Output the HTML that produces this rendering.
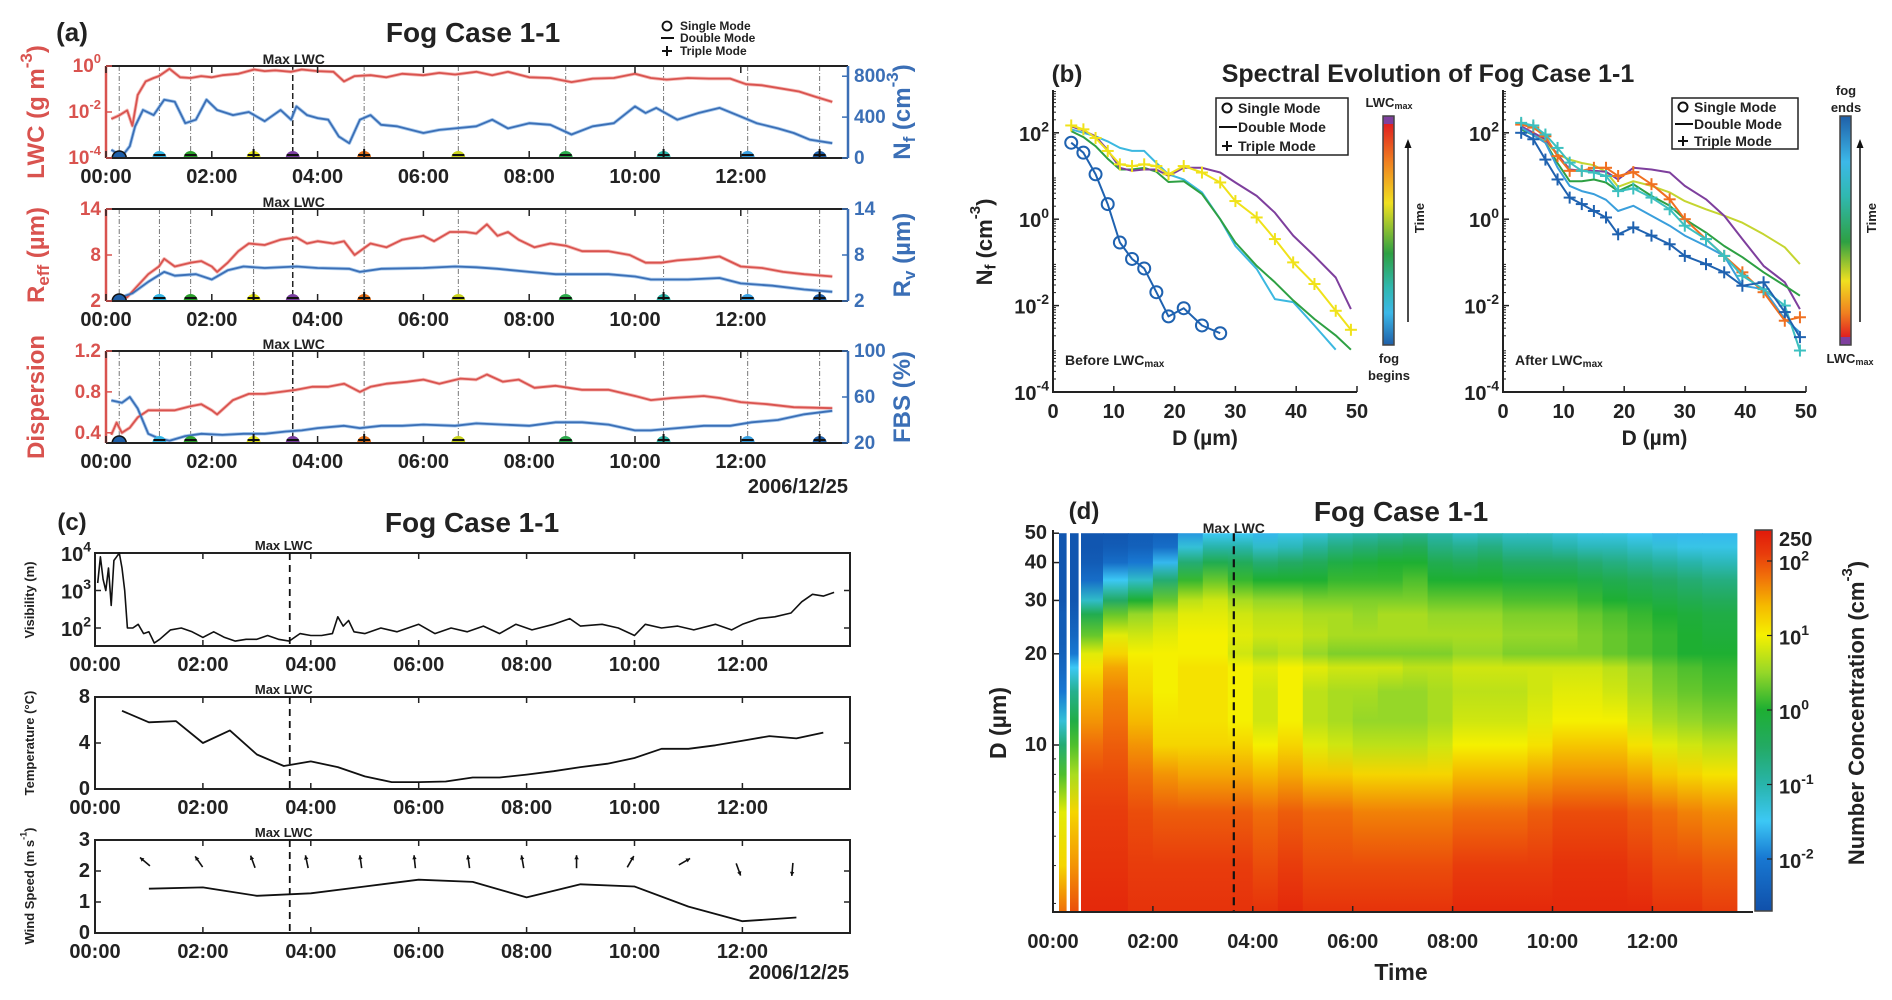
<!DOCTYPE html>
<html><head><meta charset="utf-8"><title>Fog Case 1-1</title>
<style>html,body{margin:0;padding:0;background:#fff}svg{display:block}</style></head>
<body>
<svg id="fig" xmlns="http://www.w3.org/2000/svg" width="1892" height="1000" viewBox="0 0 1892 1000">
<defs id="defs"></defs>
</svg>
<script>
// ---------- DATA: panel (a) ----------
const lwcT=[0.1,0.25,0.4,0.5,0.6,0.75,0.9,1.0,1.2,1.4,1.6,1.8,2.0,2.2,2.5,2.8,3.0,3.2,3.5,3.7,4.0,4.3,4.5,4.7,5.0,5.3,5.6,6.0,6.3,6.6,7.0,7.3,7.6,8.0,8.4,8.8,9.2,9.6,10.0,10.3,10.6,11.0,11.4,11.8,12.1,12.4,12.8,13.1,13.4,13.73];
const lwcLog=[-2.3,-2.15,-1.93,-2.6,-1.26,-0.67,-0.52,-0.44,-0.12,-0.49,-0.52,-0.44,-0.49,-0.4,-0.34,-0.15,-0.22,-0.19,-0.25,-0.15,-0.22,-0.25,-0.67,-0.44,-0.4,-0.49,-0.34,-0.4,-0.3,-0.37,-0.25,-0.4,-0.25,-0.49,-0.52,-0.7,-0.55,-0.52,-0.34,-0.52,-0.59,-0.52,-0.55,-0.55,-0.79,-0.84,-0.99,-1.11,-1.33,-1.56];
const nfT=[0.1,0.3,0.45,0.55,0.7,0.9,1.1,1.3,1.5,1.7,1.9,2.1,2.4,2.7,3.0,3.3,3.5,3.6,3.8,4.0,4.2,4.4,4.6,4.8,5.0,5.2,5.5,6.0,6.3,6.6,7.0,7.3,7.6,8.0,8.4,8.8,9.2,9.6,10.0,10.2,10.4,10.8,11.2,11.6,12.0,12.3,12.7,13.0,13.3,13.73];
const nfVal=[80,15,115,310,470,420,570,550,340,375,570,470,420,450,360,470,375,505,420,390,375,210,145,375,420,325,310,245,275,290,310,375,290,340,325,230,310,340,505,440,490,375,440,490,405,340,290,245,180,145];
const reffT=[0.2,0.4,0.6,0.8,1.0,1.1,1.3,1.6,1.8,2.0,2.1,2.3,2.5,2.7,3.0,3.3,3.6,3.8,4.0,4.3,4.5,4.7,5.0,5.3,5.6,6.0,6.2,6.5,6.8,7.0,7.2,7.4,7.6,7.8,8.1,8.4,8.7,9.0,9.5,9.9,10.2,10.5,10.8,11.2,11.6,12.0,12.4,12.8,13.2,13.73];
const reffVal=[2.5,2.5,4,5.5,6.5,7.5,6.5,7,7.2,6.5,5.8,7,8.5,9.5,9.3,10,10.3,9.5,9.8,9.5,9.8,8,9.5,9,10,10.5,9.8,11,11,10.8,12,10.5,11,10,9,9.5,9.2,8.5,8.5,8,7,7,7.3,7.5,7.8,6.5,6.3,5.8,5.5,5.2];
const rvT=[0.2,0.5,0.8,1.1,1.3,1.7,2.0,2.3,2.6,3.0,3.6,4.0,4.6,4.8,5.2,6.0,6.6,7.0,7.4,8.0,8.5,9.0,9.5,10.0,10.3,11.0,11.6,12.0,12.6,13.2,13.73];
const rvVal=[2.3,3,4.5,5.8,5.3,5.5,4.8,6,6.5,6.3,6.5,6.3,6.2,5.8,6.2,6.3,6.5,6.4,6.2,5.8,5.5,5.5,5.5,5.2,4.8,4.8,5,4.3,4,3.5,3.2];
const dispT=[0.1,0.2,0.3,0.45,0.6,0.8,1.0,1.3,1.6,1.8,2.0,2.1,2.4,2.7,3.0,3.3,3.6,3.9,4.2,4.5,4.8,5.0,5.3,5.7,6.0,6.3,6.7,7.0,7.2,7.5,7.8,8.1,8.5,9.0,9.5,10.0,10.3,10.7,11.3,11.6,12.0,12.5,13.0,13.73];
const dispVal=[0.38,0.5,0.4,0.45,0.55,0.62,0.62,0.62,0.66,0.68,0.62,0.58,0.72,0.78,0.78,0.8,0.82,0.85,0.85,0.88,0.8,0.85,0.88,0.9,0.92,0.88,0.93,0.92,0.97,0.9,0.92,0.84,0.86,0.82,0.82,0.76,0.72,0.74,0.76,0.74,0.7,0.68,0.65,0.64];
const fbsT=[0.1,0.3,0.45,0.6,0.8,1.0,1.2,1.5,1.8,2.2,2.6,3.0,3.4,3.7,4.0,4.5,4.8,5.2,5.6,6.0,6.6,7.0,7.5,8.0,8.5,9.0,9.5,10.0,10.3,10.8,11.3,11.8,12.2,12.7,13.2,13.73];
const fbsVal=[57,55,60,50,28,24,22,26,28,27,28,28,30,31,33,35,33,35,35,36,35,37,36,35,38,38,36,31,31,33,35,35,38,40,45,48];
const modeT=[0.25,1.01,1.6,2.79,3.53,4.88,6.66,8.69,10.54,12.13,13.49];
const modeType=['single','double','double','triple','double','triple','double','double','triple','double','triple'];
const modeCol=['#1f5fa8','#33b5e5','#2ca02c','#e6e619','#7b3fa0','#e8731a','#c8d21e','#2aa84a','#2bb5a8','#3aa0e0','#1f5fa8'];
const maxLwcT=3.55;
const timeTicks=[0,2,4,6,8,10,12];
const timeLabels=['00:00','02:00','04:00','06:00','08:00','10:00','12:00'];
// ---------- DATA: panel (c) ----------
const visT=[0.05,0.1,0.15,0.2,0.25,0.3,0.35,0.4,0.45,0.5,0.55,0.6,0.7,0.8,0.9,1.0,1.1,1.2,1.4,1.6,1.8,2.0,2.2,2.4,2.6,2.8,3.0,3.2,3.4,3.6,3.8,4.0,4.2,4.4,4.5,4.6,4.7,4.8,5.0,5.3,5.6,6.0,6.3,6.6,6.9,7.2,7.5,7.8,8.1,8.5,8.8,9.0,9.4,9.7,10.0,10.2,10.5,10.8,11.1,11.5,11.8,12.0,12.3,12.6,12.9,13.1,13.3,13.5,13.7];
const visLog=[3.2,3.9,3.3,3.0,3.6,2.6,3.8,3.9,4.0,3.6,3.0,2.0,2.0,2.1,1.85,1.9,1.6,1.7,1.95,2.0,1.9,1.75,1.9,1.75,1.65,1.7,1.7,1.8,1.7,1.65,1.85,1.8,1.8,1.85,2.3,2.05,2.2,1.9,1.85,2.0,1.9,2.1,1.85,2.0,1.9,2.05,1.85,2.1,1.95,2.1,2.25,2.05,2.1,2.0,1.8,2.1,2.0,2.05,1.95,2.1,1.95,2.1,2.25,2.3,2.4,2.7,2.9,2.85,2.95];
const tempT=[0.5,1,1.5,2,2.5,3,3.5,4,4.5,5,5.5,6,6.5,7,7.5,8,8.5,9,9.5,10,10.5,11,11.5,12,12.5,13,13.5];
const tempVal=[6.8,5.8,5.9,4.0,5.1,3.0,2.0,2.4,1.9,1.1,0.6,0.6,0.65,1.0,1.0,1.25,1.55,1.9,2.2,2.7,3.5,3.5,3.8,4.2,4.6,4.4,4.9];
const windT=[1,2,3,4,5,6,7,8,9,10,11,12,13];
const windVal=[1.43,1.47,1.2,1.28,1.5,1.72,1.65,1.15,1.57,1.5,0.85,0.38,0.5];
const windDir=[-50,-35,-20,-12,-8,-6,-8,-10,0,30,60,160,185];
const maxLwcTc=3.61;
// ---------- DATA: panel (b) ----------
const specD=[3,5,7,9,11,13,15,17,19,21.5,24.5,27.5,30,33.5,36.5,39.5,43,46.5,49];
const bSingle=[1.77,1.54,1.04,0.35,-0.54,-0.92,-1.14,-1.69,-2.25,-2.06,-2.46,-2.64,null,null,null,null,null,null,null];
const bYellow=[2.17,2.08,1.88,1.58,1.27,1.23,1.27,1.23,1.04,1.23,1.08,0.85,0.42,0.04,-0.46,-1.0,-1.5,-2.12,-2.56];
const bPurple=[2.15,2.05,1.92,1.6,1.19,1.12,1.15,1.15,1.0,1.19,1.19,1.08,0.85,0.54,0.15,-0.38,-0.85,-1.35,-2.08];
const bGreen=[2.04,1.9,1.69,1.4,1.15,1.15,1.19,1.1,0.86,0.88,0.58,0,-0.54,-1.08,-1.46,-1.88,-2.31,-2.69,-3.02];
const bCyan=[2.08,2.0,1.92,1.8,1.65,1.58,1.58,1.3,1.04,0.92,0.62,0,-0.62,-1.15,-1.85,-1.92,-2.46,-3.02,null];
const aOrange=[2.19,2.12,1.92,1.46,1.12,1.12,1.19,1.19,1.0,1.09,0.81,0.46,0,-0.46,-0.85,-1.23,-1.69,-2.35,-2.27];
const aTeal=[2.23,2.17,1.96,1.65,1.31,1.12,1.08,1.0,0.65,0.71,0.5,0.23,-0.15,-0.46,-0.85,-1.31,-1.62,-2.0,-3.04];
const aDark=[2.0,1.85,1.38,0.92,0.5,0.35,0.19,0.04,-0.35,-0.19,-0.38,-0.58,-0.85,-1.04,-1.23,-1.54,-1.46,-2.15,-2.73];
const aPurple=[2.15,2.0,1.85,1.5,1.15,1.12,1.12,1.1,0.92,1.19,1.15,1.08,0.77,0.46,0.08,-0.46,-1.08,-1.46,-2.08];
const aYG=[2.12,1.95,1.8,1.5,1.38,1.3,1.25,1.1,0.75,0.88,0.77,0.62,0.42,0.23,0.08,-0.08,-0.35,-0.65,-1.04];
const aGreen=[2.08,1.95,1.77,1.3,0.88,0.88,0.92,0.85,0.65,0.81,0.54,0.31,0,-0.31,-0.62,-0.88,-1.23,-1.54,-1.77];
const aLight=[2.12,1.95,1.77,1.2,0.77,0.65,0.58,0.45,0.19,0.31,0.08,-0.15,-0.38,-0.62,-0.85,-1.54,-1.62,-2.31,-2.62];
// ---------- DATA: panel (d) heatmap ----------
const hmD=[2.8,4,6,8,10,12,15,18,20,23,27,30,35,40,45,50];
const hmT0=[0.12,0.34,0.56,1.0,1.5,2.0,2.5,3.0,3.5,4.0,4.5,5.0,5.5,6.0,6.5,7.0,7.5,8.0,8.5,9.0,9.5,10.0,10.5,11.0,11.5,12.0,12.5,13.0];
const hmT1=[0.26,0.5,1.0,1.5,2.0,2.5,3.0,3.5,4.0,4.5,5.0,5.5,6.0,6.5,7.0,7.5,8.0,8.5,9.0,9.5,10.0,10.5,11.0,11.5,12.0,12.5,13.0,13.69];
const hmLog=[
[1.8,1.2,0.9,0.2,-0.6,-1.3,-2.0,-2.3,-2.4,-2.5,-2.5,-2.6,-2.6,-2.6,-2.6,-2.6],
[2.0,1.6,1.2,0.6,0.2,-0.2,-0.8,-1.5,-2.0,-2.3,-2.5,-2.6,-2.6,-2.6,-2.6,-2.6],
[2.3,2.2,2.1,2.0,1.8,1.6,1.4,1.1,0.9,0.3,-0.3,-1.2,-2.2,-2.5,-2.6,-2.6],
[2.3,2.2,2.1,2.0,1.9,1.8,1.7,1.5,1.2,0.9,0.3,-0.5,-1.5,-2.2,-2.5,-2.6],
[2.2,2.1,2.0,1.8,1.6,1.4,1.2,1.1,1.0,0.8,0.5,0.0,-1.2,-2.0,-2.4,-2.5],
[2.2,2.1,1.9,1.6,1.2,1.1,1.0,1.0,1.0,0.9,0.7,0.3,-0.6,-1.6,-2.2,-2.4],
[2.2,2.1,1.9,1.5,1.2,1.1,1.1,1.1,1.0,1.0,0.9,0.7,0.1,-0.6,-1.3,-1.8],
[2.2,2.1,1.9,1.5,1.2,1.1,1.1,1.1,1.0,1.0,0.9,0.8,0.3,-0.3,-1.0,-1.5],
[2.2,2.1,1.9,1.5,1.2,1.0,1.0,1.0,0.8,0.9,0.8,0.6,0.1,-0.4,-1.0,-1.5],
[2.2,2.0,1.8,1.4,1.0,0.8,0.8,0.9,0.6,0.8,0.7,0.5,0.0,-0.6,-1.2,-1.6],
[2.3,2.1,1.9,1.5,1.2,1.0,1.0,1.0,0.7,0.8,0.7,0.5,0.0,-0.5,-1.1,-1.4],
[2.2,2.0,1.8,1.3,0.9,0.7,0.7,0.9,0.5,0.7,0.6,0.4,0.0,-0.4,-0.9,-1.3],
[2.2,2.0,1.8,1.3,0.8,0.6,0.6,0.8,0.4,0.6,0.6,0.4,0.1,-0.2,-0.7,-1.1],
[2.2,2.0,1.7,1.2,0.7,0.5,0.6,0.8,0.4,0.6,0.5,0.4,0.1,-0.1,-0.6,-1.0],
[2.2,2.0,1.7,1.2,0.7,0.5,0.5,0.8,0.4,0.6,0.6,0.4,0.1,0.0,-0.5,-0.9],
[2.2,2.0,1.7,1.2,0.7,0.5,0.5,0.7,0.4,0.6,0.6,0.4,0.2,0.0,-0.4,-0.8],
[2.2,2.0,1.7,1.2,0.8,0.6,0.6,0.7,0.4,0.6,0.5,0.3,0.0,-0.3,-0.7,-1.0],
[2.3,2.1,1.8,1.4,1.0,0.8,0.7,0.8,0.5,0.6,0.5,0.3,0.0,-0.4,-0.8,-1.2],
[2.3,2.1,1.8,1.4,1.0,0.8,0.7,0.8,0.5,0.6,0.5,0.3,0.0,-0.3,-0.7,-1.1],
[2.3,2.1,1.8,1.4,1.0,0.8,0.7,0.8,0.4,0.5,0.4,0.2,-0.1,-0.5,-0.9,-1.2],
[2.3,2.1,1.9,1.5,1.1,0.9,0.8,0.8,0.4,0.5,0.4,0.2,-0.1,-0.5,-0.9,-1.2],
[2.3,2.2,2.0,1.6,1.3,1.0,0.9,0.8,0.4,0.5,0.4,0.2,-0.1,-0.5,-1.0,-1.3],
[2.3,2.2,2.0,1.6,1.3,1.0,0.9,0.8,0.4,0.4,0.3,0.1,-0.2,-0.6,-1.1,-1.4],
[2.3,2.2,2.0,1.6,1.3,1.0,0.8,0.7,0.3,0.3,0.2,0.0,-0.3,-0.7,-1.1,-1.4],
[2.3,2.1,1.9,1.5,1.1,0.8,0.6,0.5,0.2,0.2,0.1,-0.1,-0.4,-0.8,-1.2,-1.5],
[2.2,2.0,1.8,1.3,0.9,0.6,0.4,0.3,0.1,0.1,0.0,-0.2,-0.5,-0.9,-1.3,-1.6],
[2.2,2.0,1.7,1.2,0.8,0.5,0.3,0.2,0.0,0.0,-0.1,-0.3,-0.6,-1.0,-1.4,-1.6],
[2.1,1.9,1.6,1.1,0.7,0.4,0.2,0.1,0.0,-0.1,-0.2,-0.4,-0.7,-1.1,-1.4,-1.6]];
const dTicks=[10,20,30,40,50];
const cbTicks=[-2,-1,0,1,2];

// ---------- helpers ----------
const NS='http://www.w3.org/2000/svg';
const svg=document.getElementById('fig');
const defs=document.getElementById('defs');
const SANS='"Liberation Sans", Arial, sans-serif';
function mk(tag,attrs,name,parent){
  const e=document.createElementNS(NS,tag);
  for(const k in attrs) e.setAttribute(k,attrs[k]);
  
  
  (parent||svg).appendChild(e);
  return e;
}
function txt(x,y,parts,o,name){
  o=o||{};
  const size=o.size||20;
  const t=mk('text',{x:x,y:y,'font-family':SANS,'font-size':size,'font-weight':o.weight||'bold','text-anchor':o.anchor||'middle','dominant-baseline':'central',fill:o.fill||'#222'},name,o.parent);
  if(o.rot!==undefined) t.setAttribute('transform','rotate('+o.rot+' '+x+' '+y+')');
  if(typeof parts==='string') parts=[[parts,'n']];
  let shift=0;
  parts.forEach(p=>{
    const s=document.createElementNS(NS,'tspan');
    let target=0;
    if(p[1]==='sup') target=-0.42*size; else if(p[1]==='sub') target=0.3*size;
    s.setAttribute('dy',(target-shift));
    shift=target;
    if(p[1]!=='n') s.setAttribute('font-size',Math.round(size*0.7));
    s.textContent=p[0];
    t.appendChild(s);
  });
  return t;
}
function ln(x1,y1,x2,y2,stroke,w,name,extra){
  const a={x1:x1,y1:y1,x2:x2,y2:y2,stroke:stroke,'stroke-width':w};
  if(extra) for(const k in extra) a[k]=extra[k];
  return mk('line',a,name);
}
function path(xs,ys,fx,fy,stroke,w,name,extra){
  let d='',pen=false;
  for(let i=0;i<xs.length;i++){
    if(ys[i]===null||ys[i]===undefined){pen=false;continue;}
    d+=(pen?'L':'M')+fx(xs[i]).toFixed(1)+','+fy(ys[i]).toFixed(1);
    pen=true;
  }
  const a={d:d,fill:'none',stroke:stroke,'stroke-width':w,'stroke-linejoin':'round'};
  if(extra) for(const k in extra) a[k]=extra[k];
  return mk('path',a,name);
}
const cmV=[-2.71,-2.0,-1.5,-1.0,-0.5,0.0,0.5,1.0,1.4,1.8,2.1,2.45];
const cmC=[[16,80,170],[24,120,210],[60,200,245],[40,180,170],[35,170,100],[30,175,50],[150,215,40],[245,240,0],[245,185,0],[240,110,10],[232,60,12],[225,25,10]];
function cmap(v){
  if(v<=cmV[0]) return 'rgb('+cmC[0].join(',')+')';
  for(let i=1;i<cmV.length;i++){
    if(v<=cmV[i]){const f=(v-cmV[i-1])/(cmV[i]-cmV[i-1]);const c=cmC[i].map((x,j)=>Math.round(cmC[i-1][j]+(x-cmC[i-1][j])*f));return 'rgb('+c.join(',')+')';}
  }
  return 'rgb('+cmC[cmC.length-1].join(',')+')';
}

// ================= PANEL (a) =================
const xA=t=>106+t*52.9;
const aL=106,aR=848;
const RED='#d9534f',LRED='#f2aaa5',BLUE='#3b6fb6',LBLUE='#93bde9';
txt(72,32,'(a)',{size:26},'panel-a-label');
txt(473,32,'Fog Case 1-1',{size:28},'panel-a-title');
mk('circle',{cx:667,cy:26,r:4.5,fill:'none',stroke:'#111','stroke-width':1.8},'legend-single-symbol');
txt(680,26,'Single Mode',{size:12,anchor:'start'},'legend-single-mode');
ln(661,38,674,38,'#111',2,'legend-double-symbol');
txt(680,38,'Double Mode',{size:12,anchor:'start'},'legend-double-mode');
ln(662,51,672,51,'#111',2,'legend-triple-h');ln(667,46,667,56,'#111',2,'legend-triple-v');
txt(680,51,'Triple Mode',{size:12,anchor:'start'},'legend-triple-mode');

const aPanels=[
 {top:66,bot:158,key:'lwc'},
 {top:209,bot:301,key:'reff'},
 {top:351,bot:443,key:'disp'}];
const yLwc=v=>158-(v+4)/4*92;
const yNf=v=>158-v/900*92;
const yReff=v=>301-(v-2)/12*92;
const yRv=v=>301-(v-2)/12*92;
const yDisp=v=>443-(v-0.3)/0.9*92;
const yFbs=v=>443-(v-20)/80*92;
aPanels.forEach((p,pi)=>{
  modeT.forEach((t,i)=>{
    const isMax=(i===4);
    ln(xA(t),p.top,xA(t),p.bot,isMax?'#222':'#777',isMax?1.5:1,'mode-time-line',{'stroke-dasharray':isMax?'6,3':'5,2,1,2'});
  });
  txt(xA(maxLwcT),p.top-7,'Max LWC',{size:14},'max-lwc-label');
});
path(lwcT,lwcLog,xA,yLwc,LRED,3.5,'lwc-raw-line',{opacity:0.8});
path(nfT,nfVal,xA,yNf,LBLUE,3.5,'nf-raw-line',{opacity:0.8});
path(lwcT,lwcLog,xA,yLwc,RED,1.8,'lwc-line');
path(nfT,nfVal,xA,yNf,BLUE,1.8,'nf-line');
path(reffT,reffVal,xA,yReff,LRED,3.5,'reff-raw-line',{opacity:0.8});
path(rvT,rvVal,xA,yRv,LBLUE,3.5,'rv-raw-line',{opacity:0.8});
path(reffT,reffVal,xA,yReff,RED,1.8,'reff-line');
path(rvT,rvVal,xA,yRv,BLUE,1.8,'rv-line');
path(dispT,dispVal,xA,yDisp,LRED,3.5,'dispersion-raw-line',{opacity:0.8});
path(fbsT,fbsVal,xA,yFbs,LBLUE,3.5,'fbs-raw-line',{opacity:0.8});
path(dispT,dispVal,xA,yDisp,RED,1.8,'dispersion-line');
path(fbsT,fbsVal,xA,yFbs,BLUE,1.8,'fbs-line');
aPanels.forEach((p,pi)=>{
  modeT.forEach((t,i)=>{
    const cx=xA(t),cy=p.bot;
    mk('path',{d:'M'+(cx-7)+','+cy+' A7,7 0 0 1 '+(cx+7)+','+cy+' Z',fill:modeCol[i],stroke:modeType[i]==='single'?'#111':'none','stroke-width':1.5},'mode-marker');
    if(modeType[i]==='double'){ln(cx-6,cy-3,cx+6,cy-3,'#111',2,'mode-marker-double');}
    if(modeType[i]==='triple'){ln(cx-6,cy-3,cx+6,cy-3,'#111',2,'mode-marker-triple-h');ln(cx,cy-9,cx,cy,'#111',2,'mode-marker-triple-v');}
  });
  ln(aL,p.top,aR,p.top,'#222',2,'axis-top');
  ln(aL,p.bot,aR,p.bot,'#222',2,'axis-bottom');
  ln(aL,p.top,aL,p.bot,RED,2.5,'axis-left');
  ln(aR,p.top,aR,p.bot,BLUE,2.5,'axis-right');
  timeTicks.forEach((t,i)=>{
    ln(xA(t),p.bot,xA(t),p.bot-7,'#222',1.5,'x-tick');
    ln(xA(t),p.top,xA(t),p.top+7,'#222',1.5,'x-tick-top');
    txt(xA(t),p.bot+19,timeLabels[i],{size:20},'x-tick-label');
  });
});
function yTick(x,y,dir,col,label,name,side){
  ln(x,y,x+dir*6,y,col,1.5,name+'-tick');
  txt(side==='l'?x-5:x+6,y,label,{size:19,fill:col,anchor:side==='l'?'end':'start'},name+'-label');
}
[[0,'0'],[-2,'-2'],[-4,'-4']].forEach(v=>{yTick(aL,yLwc(v[0]),1,RED,[['10','n'],[v[1],'sup']],'lwc-y','l');});
[800,400,0].forEach(v=>yTick(aR,yNf(v),-1,BLUE,String(v),'nf-y','r'));
[14,8,2].forEach(v=>yTick(aL,yReff(v),1,RED,String(v),'reff-y','l'));
[14,8,2].forEach(v=>yTick(aR,yRv(v),-1,BLUE,String(v),'rv-y','r'));
[1.2,0.8,0.4].forEach(v=>yTick(aL,yDisp(v),1,RED,v.toFixed(1),'dispersion-y','l'));
[100,60,20].forEach(v=>yTick(aR,yFbs(v),-1,BLUE,String(v),'fbs-y','r'));
txt(36,112,[['LWC (g m','n'],['-3','sup'],[')','n']],{size:24,fill:RED,rot:-90},'lwc-axis-title');
txt(902,112,[['N','n'],['f','sub'],[' (cm','n'],['-3','sup'],[')','n']],{size:24,fill:BLUE,rot:-90},'nf-axis-title');
txt(36,255,[['R','n'],['eff','sub'],[' (µm)','n']],{size:24,fill:RED,rot:-90},'reff-axis-title');
txt(902,255,[['R','n'],['v','sub'],[' (µm)','n']],{size:24,fill:BLUE,rot:-90},'rv-axis-title');
txt(36,397,'Dispersion',{size:24,fill:RED,rot:-90},'dispersion-axis-title');
txt(902,397,'FBS (%)',{size:24,fill:BLUE,rot:-90},'fbs-axis-title');
txt(848,487,'2006/12/25',{size:20,anchor:'end'},'date-label-a');

// ================= PANEL (b) =================
txt(1067,74,'(b)',{size:24},'panel-b-label');
txt(1428,74,'Spectral Evolution of Fog Case 1-1',{size:25},'panel-b-title');
const yB=v=>392-(v+4)*43.2;
const xB1=d=>1053+d*6.08;
const xB2=d=>1503+d*6.06;
function specAxes(x0,xf,pre){
  ln(x0,90,x0,393,'#222',2,pre+'-y-axis');
  ln(x0,392,xf(50),392,'#222',2,pre+'-x-axis');
  [-4,-2,0,2].forEach(v=>{
    ln(x0,yB(v),x0+6,yB(v),'#222',1.5,pre+'-y-tick');
    txt(x0-4,yB(v)+2,[['10','n'],[String(v),'sup']],{size:20,anchor:'end'},pre+'-y-tick-label');
  });
  for(let dec=-4;dec<3;dec++){for(let m=2;m<10;m++){const yy=yB(dec+Math.log10(m));if(yy>90) ln(x0,yy,x0+3,yy,'#222',1,pre+'-y-minor-tick');}}
  [0,10,20,30,40,50].forEach(d=>{
    ln(xf(d),392,xf(d),386,'#222',1.5,pre+'-x-tick');
    txt(xf(d),412,String(d),{size:20},pre+'-x-tick-label');
  });
  txt(xf(25),438,'D (µm)',{size:21},pre+'-x-axis-title');
}
specAxes(1053,xB1,'spectrum-before');
specAxes(1503,xB2,'spectrum-after');
txt(984,242,[['N','n'],['f','sub'],[' (cm','n'],['-3','sup'],[')','n']],{size:22,rot:-90},'nf-spectrum-axis-title');
function specLine(fx,vals,col,marker,name){
  path(specD,vals,fx,yB,col,2,name);
  specD.forEach((d,i)=>{
    if(vals[i]===null) return;
    const x=fx(d),y=yB(vals[i]);
    if(marker==='o') mk('circle',{cx:x,cy:y,r:6,fill:'none',stroke:col,'stroke-width':2},name+'-marker');
    if(marker==='+'){ln(x-6,y,x+6,y,col,2,name+'-marker-h');ln(x,y-6,x,y+6,col,2,name+'-marker-v');}
  });
}
specLine(xB1,bCyan,'#3cb8e0','-','before-spectrum-cyan');
specLine(xB1,bGreen,'#2ea043','-','before-spectrum-green');
specLine(xB1,bPurple,'#7e3f9d','-','before-spectrum-purple');
specLine(xB1,bYellow,'#f0e21a','+','before-spectrum-yellow');
specLine(xB1,bSingle,'#1f62b0','o','before-spectrum-single');
specLine(xB2,aYG,'#c5d530','-','after-spectrum-yellowgreen');
specLine(xB2,aPurple,'#7e3f9d','-','after-spectrum-purple');
specLine(xB2,aGreen,'#2ea043','-','after-spectrum-green');
specLine(xB2,aLight,'#3a9fdc','-','after-spectrum-lightblue');
specLine(xB2,aOrange,'#f07020','+','after-spectrum-orange');
specLine(xB2,aTeal,'#3cc0c0','+','after-spectrum-teal');
specLine(xB2,aDark,'#1f62b0','+','after-spectrum-darkblue');
txt(1065,360,[['Before LWC','n'],['max','sub']],{size:14,anchor:'start'},'before-lwcmax-label');
txt(1515,360,[['After LWC','n'],['max','sub']],{size:14,anchor:'start'},'after-lwcmax-label');
function specLegend(x,y,w,h,dy,pre){
  mk('rect',{x:x,y:y,width:w,height:h,fill:'#fff',stroke:'#222','stroke-width':1.5},pre+'-legend-box');
  const c=[y+dy[0],y+dy[1],y+dy[2]];
  mk('circle',{cx:x+11,cy:c[0],r:4.5,fill:'none',stroke:'#111','stroke-width':2},pre+'-legend-single-symbol');
  txt(x+22,c[0],'Single Mode',{size:14,anchor:'start'},pre+'-legend-single');
  ln(x+3,c[1],x+21,c[1],'#111',2,pre+'-legend-double-symbol');
  txt(x+22,c[1],'Double Mode',{size:14,anchor:'start'},pre+'-legend-double');
  ln(x+6,c[2],x+16,c[2],'#111',2,pre+'-legend-triple-h');ln(x+11,c[2]-5,x+11,c[2]+5,'#111',2,pre+'-legend-triple-v');
  txt(x+22,c[2],'Triple Mode',{size:14,anchor:'start'},pre+'-legend-triple');
}
specLegend(1216,98,132,57,[10,29,48],'before');
specLegend(1672,98,126,51,[9,26,43],'after');
function grad(id,stops,vertical){
  const g=mk('linearGradient',{id:id,x1:0,y1:0,x2:vertical?0:1,y2:vertical?1:0},id,defs);
  stops.forEach(s=>{mk('stop',{offset:s[0],'stop-color':s[1]},'gradient-stop',g);});
}
grad('cbBefore',[[0,'#7e3f9d'],[0.035,'#7e3f9d'],[0.036,'#e02020'],[0.2,'#f08020'],[0.38,'#f0e020'],[0.6,'#2ea043'],[0.75,'#30b8b0'],[0.86,'#3cb8e8'],[1,'#1f5fa8']],true);
grad('cbAfter',[[0,'#1f5fa8'],[0.2,'#3cb8e8'],[0.35,'#30b8b0'],[0.55,'#2ea043'],[0.72,'#f0e020'],[0.86,'#f08020'],[0.964,'#e02020'],[0.965,'#7e3f9d'],[1,'#7e3f9d']],true);
mk('rect',{x:1383,y:116,width:11,height:229,fill:'url(#cbBefore)',stroke:'#444','stroke-width':1.5},'before-time-colorbar');
mk('rect',{x:1840,y:116,width:11,height:229,fill:'url(#cbAfter)',stroke:'#444','stroke-width':1.5},'after-time-colorbar');
txt(1389,102,[['LWC','n'],['max','sub']],{size:13},'before-cb-top-label');
txt(1389,358,'fog',{size:13},'before-cb-bottom-label-1');
txt(1389,375,'begins',{size:13},'before-cb-bottom-label-2');
txt(1846,90,'fog',{size:13},'after-cb-top-label-1');
txt(1846,107,'ends',{size:13},'after-cb-top-label-2');
txt(1850,358,[['LWC','n'],['max','sub']],{size:13},'after-cb-bottom-label');
[[1408,'before'],[1860,'after']].forEach(a=>{
  ln(a[0],322,a[0],146,'#111',1.5,a[1]+'-time-arrow');
  mk('path',{d:'M'+(a[0]-3.5)+',148 L'+a[0]+',139 L'+(a[0]+3.5)+',148 Z',fill:'#111'},a[1]+'-time-arrowhead');
  txt(a[0]+11,218,'Time',{size:13,rot:-90},a[1]+'-time-label');
});

// ================= PANEL (c) =================
const xC=t=>95+t*53.95;
const cL=95,cR=850;
txt(72,522,'(c)',{size:24},'panel-c-label');
txt(472,522,'Fog Case 1-1',{size:28},'panel-c-title');
const cPanels=[{top:553,bot:646},{top:697,bot:789},{top:840,bot:933}];
const yVis=v=>628-(v-2)*37.5;
const yTemp=v=>789-v/8*92;
const yWind=v=>933-v/3*93;
cPanels.forEach((p,pi)=>{
  mk('rect',{x:cL,y:p.top,width:cR-cL,height:p.bot-p.top,fill:'none',stroke:'#222','stroke-width':2},'panel-c-axes-box');
  timeTicks.forEach((t,i)=>{
    ln(xC(t),p.bot,xC(t),p.bot-6,'#222',1.5,'c-x-tick');
    ln(xC(t),p.top,xC(t),p.top+6,'#222',1.5,'c-x-tick-top');
    txt(xC(t),p.bot+19,timeLabels[i],{size:20},'c-x-tick-label');
  });
  ln(xC(maxLwcTc),p.top,xC(maxLwcTc),p.bot,'#111',1.8,'max-lwc-dashed-line',{'stroke-dasharray':'7,5'});
  txt(xC(maxLwcTc)-6,p.top-8,'Max LWC',{size:13},'max-lwc-label-c');
});
[2,3,4].forEach(v=>{
  ln(cL,yVis(v),cL+6,yVis(v),'#222',1.5,'vis-y-tick');ln(cR,yVis(v),cR-6,yVis(v),'#222',1.5,'vis-y-tick-right');
  txt(cL-4,yVis(v)+2,[['10','n'],[String(v),'sup']],{size:20,anchor:'end'},'vis-y-tick-label');
});
[0,4,8].forEach(v=>{
  ln(cL,yTemp(v),cL+6,yTemp(v),'#222',1.5,'temp-y-tick');ln(cR,yTemp(v),cR-6,yTemp(v),'#222',1.5,'temp-y-tick-right');
  txt(cL-5,yTemp(v),String(v),{size:20,anchor:'end'},'temp-y-tick-label');
});
[0,1,2,3].forEach(v=>{
  ln(cL,yWind(v),cL+6,yWind(v),'#222',1.5,'wind-y-tick');ln(cR,yWind(v),cR-6,yWind(v),'#222',1.5,'wind-y-tick-right');
  txt(cL-5,yWind(v),String(v),{size:20,anchor:'end'},'wind-y-tick-label');
});
path(visT,visLog,xC,yVis,'#111',1.6,'visibility-line');
path(tempT,tempVal,xC,yTemp,'#111',1.8,'temperature-line');
path(windT,windVal,xC,yWind,'#111',1.8,'wind-speed-line');
windT.forEach((t,i)=>{
  const a=windDir[i]*Math.PI/180,L=13;
  const cx=xC(t)-4,cy=yWind(i>=11?2.05:2.3);
  const dx=Math.sin(a)*L/2,dy=-Math.cos(a)*L/2;
  ln(cx-dx,cy-dy,cx+dx,cy+dy,'#111',1.6,'wind-direction-arrow');
  const hx=cx+dx,hy=cy+dy,bx=-Math.sin(a),by=Math.cos(a),px=Math.cos(a),py=Math.sin(a);
  mk('path',{d:'M'+hx.toFixed(1)+','+hy.toFixed(1)+' L'+(hx+bx*4+px*2.2).toFixed(1)+','+(hy+by*4+py*2.2).toFixed(1)+' L'+(hx+bx*4-px*2.2).toFixed(1)+','+(hy+by*4-py*2.2).toFixed(1)+' Z',fill:'#111'},'wind-arrowhead');
});
txt(29,600,'Visibility (m)',{size:13,rot:-90},'visibility-axis-title');
txt(29,743,'Temperature (°C)',{size:13,rot:-90},'temperature-axis-title');
txt(29,886,[['Wind Speed (m s','n'],['-1','sup'],[')','n']],{size:13,rot:-90},'wind-speed-axis-title');
txt(849,973,'2006/12/25',{size:20,anchor:'end'},'date-label-c');

// ================= PANEL (d) =================
const xD=t=>1053+t*49.95;
const yD=d=>745-(Math.log10(d)-1)*303;
const yCb=v=>710-v*74.5;
txt(1084,511,'(d)',{size:24},'panel-d-label');
txt(1401,511,'Fog Case 1-1',{size:28},'panel-d-title');
const yTop=yD(50),yBot=yD(2.8);
hmLog.forEach((col,ci)=>{
  const id='hm'+ci;
  const g=mk('linearGradient',{id:id,x1:0,y1:0,x2:0,y2:1},'heatmap-column-gradient',defs);
  for(let k=hmD.length-1;k>=0;k--){
    const off=(yD(hmD[k])-yTop)/(yBot-yTop);
    mk('stop',{offset:off.toFixed(4),'stop-color':cmap(col[k])},'heatmap-stop',g);
  }
  const x0=xD(hmT0[ci]),x1=xD(hmT1[ci]);
  mk('rect',{x:x0.toFixed(1),y:yTop,width:(x1-x0+0.6).toFixed(1),height:yBot-yTop,fill:'url(#'+id+')'},'heatmap-column');
});
ln(xD(3.62),yTop,xD(3.62),yBot,'#111',2.2,'max-lwc-dashed-line-d',{'stroke-dasharray':'8,5'});
txt(xD(3.62),528,'Max LWC',{size:14},'max-lwc-label-d');
ln(1053,530,1053,913,'#222',2,'heatmap-y-axis');
ln(1053,912,1753,912,'#222',2,'heatmap-x-axis');
dTicks.forEach(d=>{
  ln(1053,yD(d),1059,yD(d),'#222',1.5,'d-y-tick');
  txt(1047,yD(d),String(d),{size:20,anchor:'end'},'d-y-tick-label');
});
[3,4,5,6,7,8,9].forEach(d=>ln(1053,yD(d),1056,yD(d),'#222',1,'d-y-minor-tick'));
timeTicks.forEach((t,i)=>{
  ln(xD(t),912,xD(t),906,'#222',1.5,'d-x-tick');
  txt(xD(t),942,timeLabels[i],{size:20},'d-x-tick-label');
});
txt(1401,972,'Time',{size:23},'d-x-axis-title');
txt(998,723,'D (µm)',{size:23,rot:-90},'d-y-axis-title');
const cbg=mk('linearGradient',{id:'cbD',x1:0,y1:1,x2:0,y2:0},'colorbar-gradient',defs);
for(let k=0;k<cmV.length;k++){
  const off=(yCb(-2.71)-yCb(cmV[k]))/(yCb(-2.71)-530);
  mk('stop',{offset:Math.min(1,Math.max(0,off)).toFixed(4),'stop-color':cmap(cmV[k])},'colorbar-stop',cbg);
}
mk('rect',{x:1755,y:530,width:17,height:381,fill:'url(#cbD)',stroke:'#444','stroke-width':1.5},'number-concentration-colorbar');
cbTicks.forEach(v=>{
  ln(1772,yCb(v),1767,yCb(v),'#222',1.2,'colorbar-tick');
  txt(1779,yCb(v)+3,[['10','n'],[String(v),'sup']],{size:20,anchor:'start'},'colorbar-tick-label');
});
txt(1779,540,'250',{size:20,anchor:'start'},'colorbar-max-label');
txt(1856,713,[['Number Concentration (cm','n'],['-3','sup'],[')','n']],{size:22,rot:-90},'colorbar-title');
</script>
</body></html>
